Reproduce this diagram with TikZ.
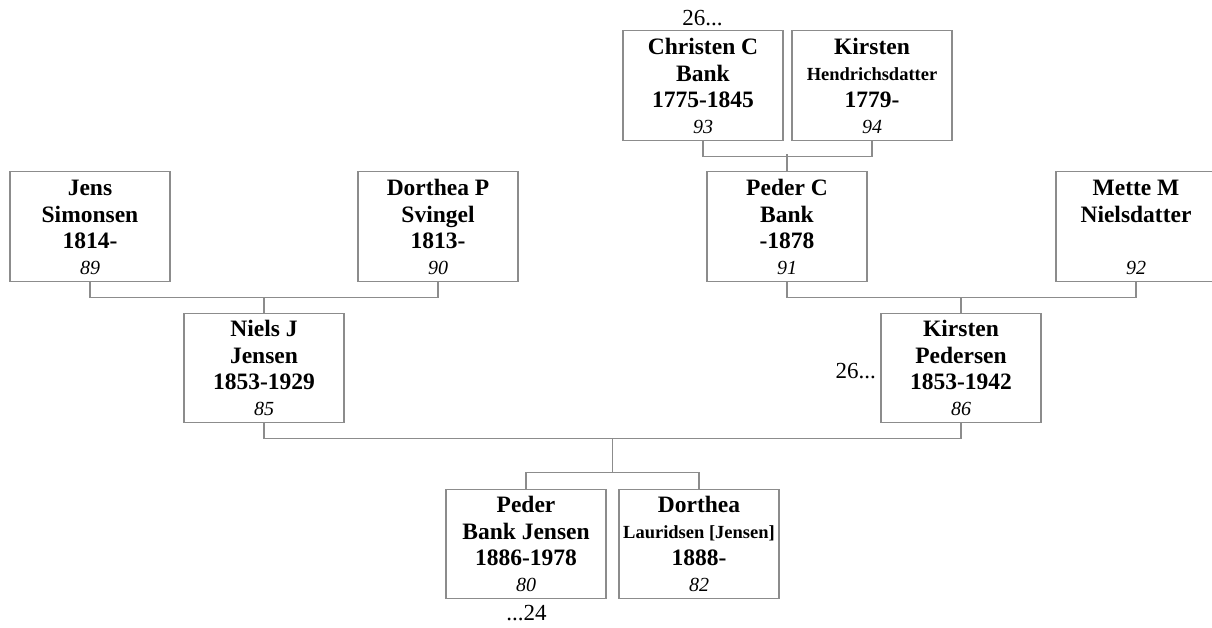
\documentclass[tikz,border=0pt]{standalone}
\usepackage{fontspec}
\setmainfont{Liberation Serif}
\usetikzlibrary{calc}
\definecolor{boxgray}{HTML}{8C8C8C}
\tikzset{
  pbox/.style={draw=boxgray, line width=1.1pt, minimum width=160pt, minimum height=109.5pt, inner sep=0pt, fill=white},
  link/.style={draw=boxgray, line width=1.1pt},
  bigname/.style={anchor=base, inner sep=0pt, font=\fontsize{23.5}{26}\selectfont\bfseries},
  smallname/.style={anchor=base, inner sep=0pt, font=\fontsize{18.5}{22}\selectfont\bfseries},
  numtxt/.style={anchor=base, inner sep=0pt, font=\fontsize{20}{24}\selectfont\itshape},
  reftxt/.style={anchor=base, inner sep=0pt, font=\fontsize{23}{26}\selectfont},
}
\begin{document}
\begin{tikzpicture}[x=1pt,y=-1pt]
\useasboundingbox (0,0) rectangle (1212,628);
\clip (0,0) rectangle (1212,628);
\fill[white] (0,0) rectangle (1212,628);
% boxes
\node[pbox] (jens) at (90,226.5) {};
\node[pbox] (dortp) at (438,226.5) {};
\node[pbox] (niels) at (264,368) {};
\node[pbox] (pederc) at (787,226.5) {};
\node[pbox] (mette) at (1136,226.5) {};
\node[pbox] (kirp) at (961,368) {};
\node[pbox] (chris) at (703,85.5) {};
\node[pbox] (kirh) at (872,85.5) {};
\node[pbox] (pederb) at (526,544) {};
\node[pbox] (dortl) at (699,544) {};
% texts
\node[bigname] (jens1) at ($(jens.north)+(0,24)$) {Jens};
\node[bigname] (jens2) at ($(jens.north)+(0,51)$) {Simonsen};
\node[bigname] (jens3) at ($(jens.north)+(0,77)$) {1814-};
\node[numtxt] (jens4) at ($(jens.north)+(0,103)$) {89};
\node[bigname] (dortp1) at ($(dortp.north)+(0,24)$) {Dorthea P};
\node[bigname] (dortp2) at ($(dortp.north)+(0,51)$) {Svingel};
\node[bigname] (dortp3) at ($(dortp.north)+(0,77)$) {1813-};
\node[numtxt] (dortp4) at ($(dortp.north)+(0,103)$) {90};
\node[bigname] (niels1) at ($(niels.north)+(0,24)$) {Niels J};
\node[bigname] (niels2) at ($(niels.north)+(0,51)$) {Jensen};
\node[bigname] (niels3) at ($(niels.north)+(0,77)$) {1853-1929};
\node[numtxt] (niels4) at ($(niels.north)+(0,103)$) {85};
\node[bigname] (pederc1) at ($(pederc.north)+(0,24)$) {Peder C};
\node[bigname] (pederc2) at ($(pederc.north)+(0,51)$) {Bank};
\node[bigname] (pederc3) at ($(pederc.north)+(0,77)$) {-1878};
\node[numtxt] (pederc4) at ($(pederc.north)+(0,103)$) {91};
\node[bigname] (mette1) at ($(mette.north)+(0,24)$) {Mette M};
\node[bigname] (mette2) at ($(mette.north)+(0,51)$) {Nielsdatter};
\node[numtxt] (mette4) at ($(mette.north)+(0,103)$) {92};
\node[bigname] (kirp1) at ($(kirp.north)+(0,24)$) {Kirsten};
\node[bigname] (kirp2) at ($(kirp.north)+(0,51)$) {Pedersen};
\node[bigname] (kirp3) at ($(kirp.north)+(0,77)$) {1853-1942};
\node[numtxt] (kirp4) at ($(kirp.north)+(0,103)$) {86};
\node[bigname] (chris1) at ($(chris.north)+(0,24)$) {Christen C};
\node[bigname] (chris2) at ($(chris.north)+(0,51)$) {Bank};
\node[bigname] (chris3) at ($(chris.north)+(0,77)$) {1775-1845};
\node[numtxt] (chris4) at ($(chris.north)+(0,103)$) {93};
\node[bigname] (kirh1) at ($(kirh.north)+(0,24)$) {Kirsten};
\node[smallname] (kirh2) at ($(kirh.north)+(0,50)$) {Hendrichsdatter};
\node[bigname] (kirh3) at ($(kirh.north)+(0,77)$) {1779-};
\node[numtxt] (kirh4) at ($(kirh.north)+(0,103)$) {94};
\node[bigname] (pederb1) at ($(pederb.north)+(0,24)$) {Peder};
\node[bigname] (pederb2) at ($(pederb.north)+(0,51)$) {Bank Jensen};
\node[bigname] (pederb3) at ($(pederb.north)+(0,77)$) {1886-1978};
\node[numtxt] (pederb4) at ($(pederb.north)+(0,103)$) {80};
\node[bigname] (dortl1) at ($(dortl.north)+(0,24)$) {Dorthea};
\node[smallname] (dortl2) at ($(dortl.north)+(0,50)$) {Lauridsen [Jensen]};
\node[bigname] (dortl3) at ($(dortl.north)+(0,77)$) {1888-};
\node[numtxt] (dortl4) at ($(dortl.north)+(0,103)$) {82};
% reference labels
\node[reftxt] (ref1) at (702.5,26) {26...};
\node[reftxt, anchor=base east] (ref2) at (876,378) {26...};
\node[reftxt] (ref3) at (526.5,620) {...24};
% connectors
\draw[link] (jens.south) -- ++(0,16) -| (dortp.south);
\draw[link] (niels.north) -- ++(0,-16);
\draw[link] (pederc.south) -- ++(0,16) -| (mette.south);
\draw[link] (kirp.north) -- ++(0,-16);
\draw[link] (chris.south) -- ++(0,15.5) -| (kirh.south);
\draw[link] (pederc.north) -- ++(0,-17);
\draw[link] (niels.south) -- ++(0,15) -| (kirp.south);
\coordinate (famtop) at ($(niels.south)!0.5!(kirp.south)+(0,15)$);
\coordinate (kidbar) at ($(pederb.north)!0.5!(dortl.north)+(0,-16)$);
\draw[link] (famtop) -- (kidbar);
\draw[link] (pederb.north) -- ++(0,-16) -| (dortl.north);
\end{tikzpicture}
\end{document}
